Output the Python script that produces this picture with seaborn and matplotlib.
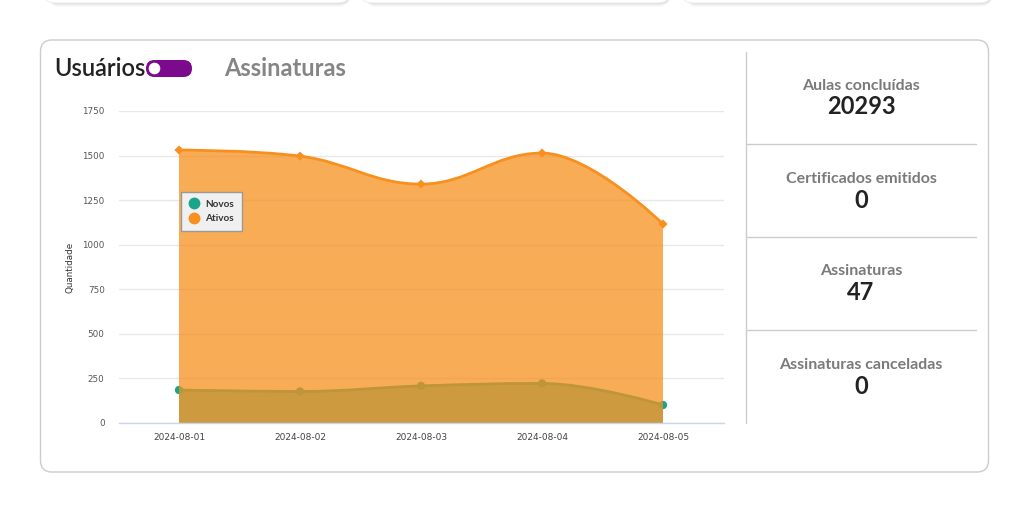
import matplotlib
matplotlib.use("Agg")
import matplotlib.pyplot as plt
from matplotlib.path import Path
from matplotlib.patches import PathPatch, FancyBboxPatch, Ellipse
from matplotlib.lines import Line2D
import seaborn as sns
import pandas as pd

dates = ["2024-08-01", "2024-08-02", "2024-08-03", "2024-08-04", "2024-08-05"]
novos = [185, 177, 208, 222, 101]
ativos = [1531, 1497, 1340, 1514, 1116]
y_ticks = [0, 250, 500, 750, 1000, 1250, 1500, 1750]

stat_labels = ["Aulas concluídas", "Certificados emitidos", "Assinaturas", "Assinaturas canceladas"]
stat_values = ["20293", "0", "47", "0"]

teal = "#1aa58a"
orange = "#f7901e"

W, H = 1026, 509


def fx(px):
    return px / W


def fy(py):
    return 1 - py / H


def spline_path(xs, ys, base=None):
    # highcharts-like spline (smoothing 1.5)
    n = len(xs)
    left = [None] * n
    right = [None] * n
    s, d = 1.5, 2.5
    for i in range(1, n - 1):
        x, y = xs[i], ys[i]
        px_, py_ = xs[i - 1], ys[i - 1]
        nx, ny = xs[i + 1], ys[i + 1]
        lx, ly = (s * x + px_) / d, (s * y + py_) / d
        rx, ry = (s * x + nx) / d, (s * y + ny) / d
        if rx != lx:
            corr = ((ry - ly) * (rx - x)) / (rx - lx) + y - ry
            ly += corr
            ry += corr
        if ly > py_ and ly > y:
            ly = max(py_, y)
            ry = 2 * y - ly
        elif ly < py_ and ly < y:
            ly = min(py_, y)
            ry = 2 * y - ly
        if ry > ny and ry > y:
            ry = max(ny, y)
            ly = 2 * y - ry
        elif ry < ny and ry < y:
            ry = min(ny, y)
            ly = 2 * y - ry
        left[i] = (lx, ly)
        right[i] = (rx, ry)
    verts = [(xs[0], ys[0])]
    codes = [Path.MOVETO]
    for i in range(1, n):
        c1 = right[i - 1] if right[i - 1] else (xs[i - 1], ys[i - 1])
        c2 = left[i] if left[i] else (xs[i], ys[i])
        verts += [c1, c2, (xs[i], ys[i])]
        codes += [Path.CURVE4] * 3
    if base is not None:
        verts += [(xs[-1], base), (xs[0], base), (xs[0], ys[0])]
        codes += [Path.LINETO, Path.LINETO, Path.CLOSEPOLY]
    return Path(verts, codes)


sns.set_theme(style="white")
plt.rcParams["font.family"] = ["Lato", "DejaVu Sans"]

fig = plt.figure(figsize=(W / 100, H / 100), dpi=100)
fig.patch.set_facecolor("white")

# cards at the top (only their bottoms are visible)
for x0, x1 in [(45, 348), (362, 668), (683, 990)]:
    for k, a in enumerate([0.03, 0.05, 0.07]):
        fig.patches.append(FancyBboxPatch((fx(x0), fy(3 + (2 - k) * 1.0)), fx(x1 - x0), 0.1,
                                          boxstyle="round,pad=0,rounding_size=0.012",
                                          transform=fig.transFigure, facecolor="none",
                                          edgecolor="#000000", alpha=a, lw=2.5 - k * 0.6,
                                          zorder=-3))
    fig.patches.append(FancyBboxPatch((fx(x0), fy(3)), fx(x1 - x0), 0.1,
                                      boxstyle="round,pad=0,rounding_size=0.012",
                                      transform=fig.transFigure, facecolor="white",
                                      edgecolor="#ececec", lw=0.6, zorder=-2))

# main card
fig.patches.append(FancyBboxPatch((fx(40.5), fy(472)), fx(948), 432 / H,
                                  boxstyle="round,pad=0,rounding_size=0.011",
                                  transform=fig.transFigure, facecolor="white",
                                  edgecolor="#cccccc", lw=1, mutation_aspect=W / H,
                                  zorder=-1))

# header
fig.text(fx(54), fy(69), "Usuários", fontsize=17, fontweight="semibold", color="#222222",
         va="center", ha="left")
fig.patches.append(FancyBboxPatch((fx(146), fy(77)), fx(46), 17 / H,
                                  boxstyle="round,pad=0,rounding_size=0.0083",
                                  transform=fig.transFigure, facecolor="#7b0a8c",
                                  edgecolor="none", mutation_aspect=W / H))
fig.patches.append(Ellipse((fx(154.5), fy(68.5)), fx(13), 13 / H, transform=fig.transFigure,
                           facecolor="white", edgecolor="#7b0a8c", lw=1))
fig.text(fx(224), fy(69), "Assinaturas", fontsize=17, fontweight="bold", color="#858585",
         va="center", ha="left")

# chart
ax = fig.add_axes([fx(118.5), fy(423), fx(605), 312 / H])
ax.set_facecolor("none")
xs = list(range(len(dates)))
df = pd.DataFrame({"pos": xs, "date": dates, "Novos": novos, "Ativos": ativos})

ax.add_patch(PathPatch(spline_path(xs, novos, base=0), facecolor=teal, alpha=0.75,
                       edgecolor="none", zorder=2))
ax.add_patch(PathPatch(spline_path(xs, novos), facecolor="none", edgecolor=teal,
                       lw=2, zorder=3))
sns.scatterplot(data=df, x="pos", y="Novos", ax=ax, color=teal, marker="o", s=36,
                edgecolor="none", zorder=3, legend=False)

ax.add_patch(PathPatch(spline_path(xs, ativos, base=0), facecolor=orange, alpha=0.75,
                       edgecolor="none", zorder=4))
ax.add_patch(PathPatch(spline_path(xs, ativos), facecolor="none", edgecolor=orange,
                       lw=2, zorder=5))
sns.scatterplot(data=df, x="pos", y="Ativos", ax=ax, color=orange, marker="D", s=22,
                edgecolor="none", zorder=5, legend=False)

ax.set_xlim(-0.5, len(dates) - 0.5)
ax.set_ylim(0, 1750)
ax.set_yticks(y_ticks)
ax.set_yticklabels([str(t) for t in y_ticks], family="DejaVu Sans")
ax.set_xticks(xs)
ax.set_xticklabels(dates, family="DejaVu Sans")
ax.tick_params(axis="y", length=0, pad=10, labelsize=6.3, labelcolor="#555555")
ax.tick_params(axis="x", length=0, pad=7, labelsize=6.5, labelcolor="#444444")
ax.yaxis.grid(True, color="#e8e8e8", lw=1)
ax.set_axisbelow(True)
for side in ["top", "right", "left"]:
    ax.spines[side].set_visible(False)
ax.spines["bottom"].set_color("#ccd6eb")
ax.spines["bottom"].set_linewidth(1)
ax.spines["bottom"].set_zorder(6)
ax.set_xlabel("")
ax.set_ylabel("")
fig.text(fx(70), fy(267), "Quantidade", rotation=90, fontsize=6.3, color="#333333",
         family="DejaVu Sans", va="center", ha="center")

handles = [Line2D([], [], marker="o", ls="none", color=teal, markersize=7.5),
           Line2D([], [], marker="o", ls="none", color=orange, markersize=7.5)]
leg = ax.legend(handles, ["Novos", "Ativos"], loc="upper left",
                bbox_to_anchor=(fx(181), fy(192)), bbox_transform=fig.transFigure,
                borderaxespad=0, frameon=True, fancybox=False, framealpha=1,
                facecolor="#f0f0f0", edgecolor="#999999", handlelength=1.1,
                handletextpad=0.6, borderpad=0.75, labelspacing=0.55,
                prop={"size": 7.2, "weight": "bold"})
leg.set_zorder(10)
leg.get_frame().set_linewidth(1)
for t in leg.get_texts():
    t.set_color("#333333")

# stats panel
fig.add_artist(Line2D([fx(745.5), fx(745.5)], [fy(52), fy(423)], color="#cccccc", lw=1))
for yy in [144, 237, 330]:
    fig.add_artist(Line2D([fx(745.5), fx(976)], [fy(yy), fy(yy)], color="#cccccc", lw=1))
label_y = [86, 179, 271, 365]
value_y = [107, 200, 292, 386]
for lab, val, ly, vy in zip(stat_labels, stat_values, label_y, value_y):
    fig.text(fx(861), fy(ly), lab, fontsize=11.5, fontweight="bold", color="#7a7a7a",
             ha="center", va="center")
    fig.text(fx(861), fy(vy), val, fontsize=17, fontweight="bold", color="#222222",
             ha="center", va="center")

fig.savefig("out.png", dpi=100)
